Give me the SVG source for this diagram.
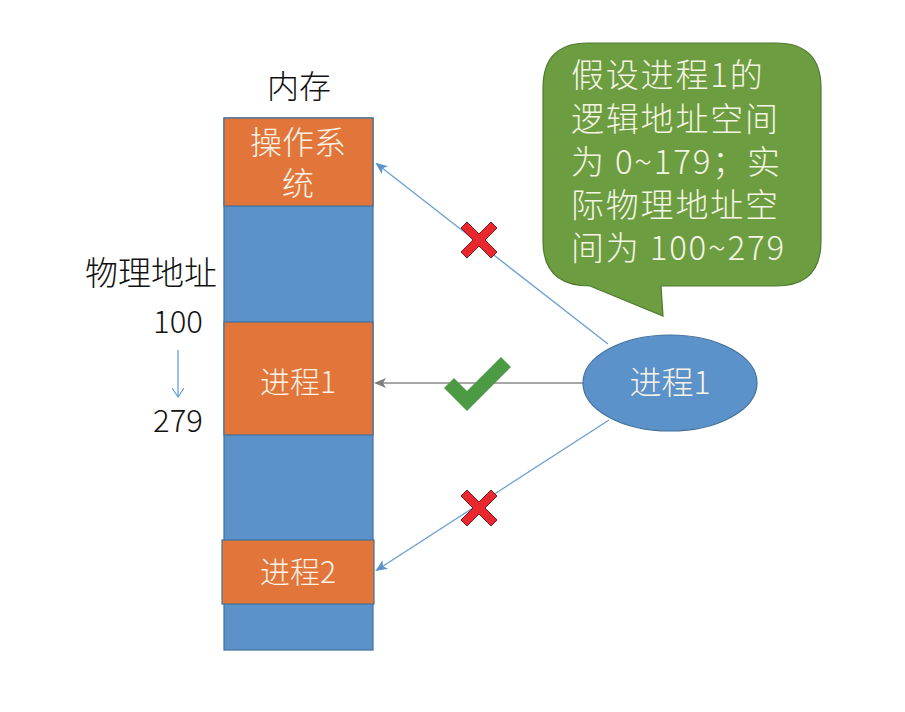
<svg xmlns="http://www.w3.org/2000/svg" width="905" height="712" viewBox="0 0 905 712">
<defs>
<style>
.t{font-family:"Noto Sans CJK SC","Liberation Sans",sans-serif;font-weight:300;}
.w{fill:#fbf3e8;}
.k{fill:#111;}
.org{fill:#E2763A;stroke:#41719C;stroke-width:1.2;}
.blu{fill:#5A92C9;stroke:#41719C;stroke-width:1.2;}
.ln{stroke:#6A9FD2;stroke-width:1.3;fill:none;}
.ln2{stroke:#8a8a8a;stroke-width:1.3;fill:none;}
.x{fill:#E8282E;stroke:#7a1a1a;stroke-width:1;}
</style>
<marker id="ab" markerWidth="12" markerHeight="10" refX="10" refY="5" orient="auto" markerUnits="userSpaceOnUse">
<path d="M0,0 L12,5 L0,10 L3,5 Z" fill="#5A92C9"/>
</marker>
<marker id="ag" markerWidth="12" markerHeight="10" refX="10" refY="5" orient="auto" markerUnits="userSpaceOnUse">
<path d="M0,0 L12,5 L0,10 L3,5 Z" fill="#7f7f7f"/>
</marker>
<marker id="as" markerWidth="10" markerHeight="12" refX="9" refY="6" orient="auto" markerUnits="userSpaceOnUse">
<path d="M0,0 L9,6 L0,12" fill="none" stroke="#6A9FD2" stroke-width="1.2"/>
</marker>
</defs>
<rect width="905" height="712" fill="#ffffff"/>

<g id="memory">
<text class="t k" x="299" y="98" font-size="32" text-anchor="middle">内存</text>
<rect class="blu" x="224" y="118" width="149" height="532"/>
<rect class="org" x="224" y="118" width="149" height="88"/>
<text class="t w" x="298" y="154" font-size="32" text-anchor="middle">操作系</text>
<text class="t w" x="298" y="195" font-size="32" text-anchor="middle">统</text>
</g>
<g id="proc1mem">
<rect class="org" x="224" y="322" width="149" height="113"/>
<text class="t w" x="298" y="393" font-size="30" text-anchor="middle">进程1</text>
</g>
<g id="proc2mem">
<rect class="org" x="222" y="540" width="152" height="64"/>
<text class="t w" x="298" y="583" font-size="30" text-anchor="middle">进程2</text>
</g>

<g id="phys">
<text class="t k" x="151" y="285" font-size="33" text-anchor="middle">物理地址</text>
<text class="t k" x="178" y="333" font-size="31" text-anchor="middle">100</text>
<line class="ln" x1="178" y1="350" x2="178" y2="397" marker-end="url(#as)"/>
<text class="t k" x="178" y="432" font-size="31" text-anchor="middle">279</text>
</g>

<g id="connectors">
<line class="ln" x1="608" y1="344" x2="377" y2="164" marker-end="url(#ab)"/>
<line class="ln2" x1="583" y1="383" x2="376" y2="383" marker-end="url(#ag)"/>
<line class="ln" x1="609" y1="420" x2="377" y2="570" marker-end="url(#ab)"/>
</g>

<g id="proc1">
<ellipse cx="670" cy="383" rx="87" ry="48" fill="#5A92C9" stroke="#41719C" stroke-width="1.2"/>
<text class="t w" x="670" y="394" font-size="32" text-anchor="middle">进程1</text>
</g>

<g id="callout">
<path d="M588,43 L776,43 Q821,43 821,88 L821,241 Q821,286 776,286 L661,286 L663,316 L590,286 Q543,286 543,241 L543,88 Q543,43 588,43 Z" fill="#6C9D40" stroke="#4E7A2E" stroke-width="1.2"/>
<g class="t" fill="#f4f4e4" font-size="33" letter-spacing="1.8">
<text x="571" y="87">假设进程1的</text>
<text x="571" y="131">逻辑地址空间</text>
<text x="571" y="174">为 0~179；实</text>
<text x="571" y="217">际物理地址空</text>
<text x="571" y="260">间为 100~279</text>
</g>
</g>

<g id="marks">
<path class="x" transform="translate(479,240)" d="M-12,-18 L0,-6 L12,-18 L18,-12 L6,0 L18,12 L12,18 L0,6 L-12,18 L-18,12 L-6,0 L-18,-12 Z"/>
<path class="x" transform="translate(479,508)" d="M-12,-18 L0,-6 L12,-18 L18,-12 L6,0 L18,12 L12,18 L0,6 L-12,18 L-18,12 L-6,0 L-18,-12 Z"/>
<path d="M444,388 L454,378 L467,391 L501,357 L511,367 L467,411 Z" fill="#4C9A44"/>
</g>
</svg>
